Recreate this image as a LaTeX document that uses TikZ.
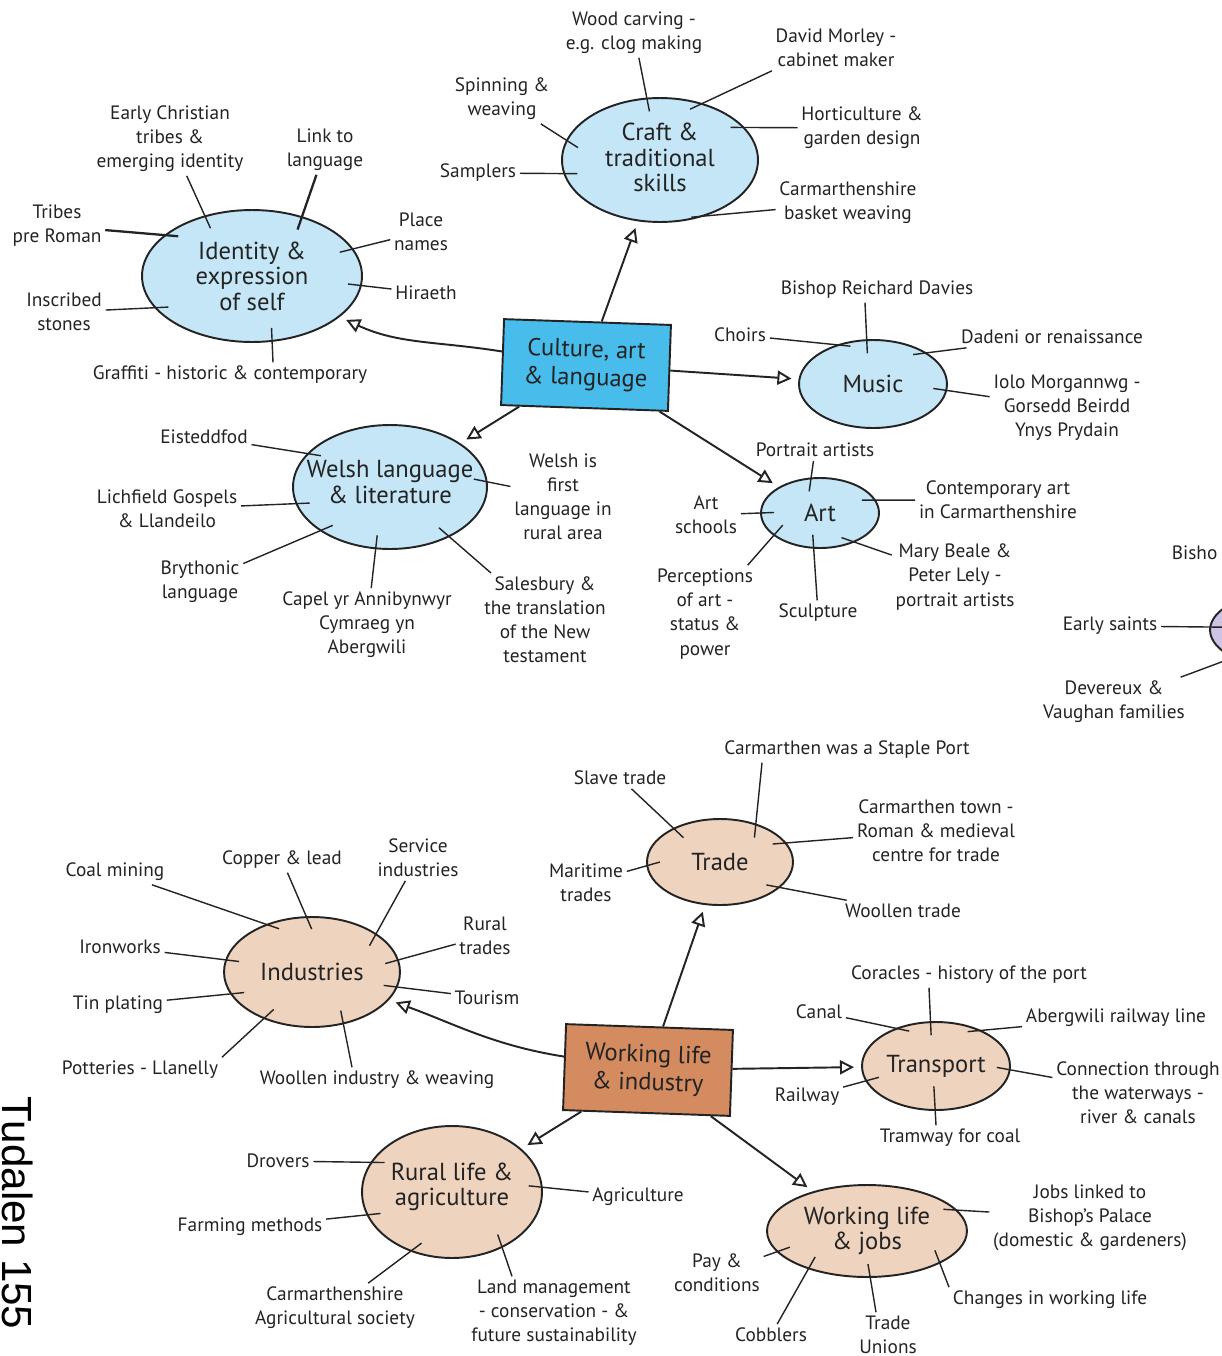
\documentclass[tikz,border=0pt]{standalone}
\usepackage{fontspec}
\setmainfont{PT Sans}
\newfontfamily\pagefont{Liberation Sans}
\usetikzlibrary{shapes.geometric,arrows.meta}

\definecolor{inkgrey}{RGB}{35,35,35}
\definecolor{culblue}{RGB}{72,189,236}
\definecolor{blobblue}{RGB}{197,230,247}
\definecolor{workbrown}{RGB}{212,139,96}
\definecolor{blobtan}{RGB}{238,211,191}
\definecolor{blobmauve}{RGB}{205,195,228}

\tikzset{
  leaf/.style={align=center,text=inkgrey,inner sep=2pt,
    font=\fontsize{11}{13.7}\selectfont},
  blob/.style={ellipse,draw=inkgrey,line width=1.1pt,inner sep=0pt},
  blueblob/.style={blob,fill=blobblue},
  tanblob/.style={blob,fill=blobtan},
  blobtxt/.style={align=center,text=inkgrey,font=\fontsize{14}{14.5}\selectfont},
  hubbox/.style={draw=inkgrey,line width=1.1pt,minimum width=3.34cm,
    minimum height=1.72cm,rotate=-2,align=center,text=inkgrey,
    font=\fontsize{14}{16}\selectfont},
  arr/.style={line width=1.1pt,draw=inkgrey,shorten >=4pt,
    -{Triangle[open,length=8pt,width=8pt]}},
  spoke/.style={line width=0.8pt,draw=inkgrey,shorten >=-8pt},
}

\begin{document}
\begin{tikzpicture}[x=0.02cm,y=-0.02cm]
	\useasboundingbox (0,0) rectangle (1222,1356);
	\clip (0,0) rectangle (1222,1356);

	% culture, art & language
	\node[hubbox,fill=culblue] (C) at (586,365) {Culture, art\\\& language};

	\node[blueblob,minimum width=4.4cm,minimum height=2.64cm,
		label={[blobtxt]center:{Identity \&\\expression\\of self}}] (CI) at (252,276) {};
	\node[blueblob,minimum width=3.92cm,minimum height=2.48cm,
		label={[blobtxt,yshift=0.05cm]center:{Craft \&\\traditional\\skills}}] (CC) at (660,160) {};
	\node[blueblob,minimum width=2.96cm,minimum height=1.76cm,
		label={[blobtxt]center:Music}] (CM) at (873,384) {};
	\node[blueblob,minimum width=2.36cm,minimum height=1.4cm,
		label={[blobtxt]center:Art}] (CA) at (820,513) {};
	\node[blueblob,minimum width=3.88cm,minimum height=2.48cm,
		label={[blobtxt,yshift=0.1cm]center:{Welsh language\\\& literature}}] (CW) at (390,487) {};
	\node[blob,fill=blobmauve,minimum width=3.4cm,minimum height=1.6cm] (CX) at (1295,630) {};

	\draw[arr] (C) -- (CC);
	\draw[arr] (C) to[out=172,in=-25] (CI);
	\draw[arr] (C) -- (CM);
	\draw[arr] (C) -- (CA);
	\draw[arr] (C) -- (CW);

	% identity
	\node[leaf] (CIa) at (170,139) {Early Christian\\tribes \&\\emerging identity};
	\node[leaf] (CIb) at (325,150) {Link to\\language};
	\node[leaf] (CIc) at (57,226) {Tribes\\pre Roman};
	\node[leaf] (CId) at (421,232) {Place\\names};
	\node[leaf] (CIe) at (426,293) {Hiraeth};
	\node[leaf] (CIf) at (64,312) {Inscribed\\stones};
	\node[leaf] (CIg) at (230,375) {Graffiti - historic \& contemporary};
	\draw[spoke] (CIa) -- (CI.128);
	\draw[spoke,line width=1.3pt] (CIb) -- (CI.50);
	\draw[spoke,line width=1.3pt] (CIc) -- (CI.155);
	\draw[spoke] (CId) -- (CI.15);
	\draw[spoke] (CIe) -- (CI.-5);
	\draw[spoke] (CIf) -- (CI.-162);
	\draw[spoke] ([xshift=0.86cm]CIg.north) -- (CI.-73);

	% craft
	\node[leaf] (CCa) at (634,33) {Wood carving -\\e.g. clog making};
	\node[leaf] (CCb) at (836,48) {David Morley -\\cabinet maker};
	\node[leaf] (CCc) at (502,99) {Spinning \&\\weaving};
	\node[leaf] (CCd) at (862,128) {Horticulture \&\\garden design};
	\node[leaf] (CCe) at (478,173) {Samplers};
	\node[leaf] (CCf) at (848,203) {Carmarthenshire\\basket weaving};
	\draw[spoke] (CCa) -- (CC.102);
	\draw[spoke] (CCb.south west) -- (CC.53);
	\draw[spoke] (CCc) -- (CC.168);
	\draw[spoke] (CCd) -- (CC.21);
	\draw[spoke] (CCe) -- (CC.-172);
	\draw[spoke] (CCf) -- (CC.-51);

	% music
	\node[leaf] (CMa) at (877,290) {Bishop Reichard Davies};
	\node[leaf] (CMb) at (740,335) {Choirs};
	\node[leaf] (CMc) at (1052,337) {Dadeni or renaissance};
	\node[leaf] (CMd) at (1067,408) {Iolo Morgannwg -\\Gorsedd Beirdd\\Ynys Prydain};
	\draw[spoke] ([xshift=-0.24cm]CMa.south) -- (CM.98);
	\draw[spoke] (CMb) -- (CM.133);
	\draw[spoke] (CMc) -- (CM.30);
	\draw[spoke] (CMd) -- (CM.-5);

	% art
	\node[leaf] (CAa) at (815,450) {Portrait artists};
	\node[leaf] (CAb) at (706,515) {Art\\schools};
	\node[leaf] (CAc) at (998,500) {Contemporary art\\in Carmarthenshire};
	\node[leaf] (CAd) at (955,577) {Mary Beale \&\\Peter Lely -\\portrait artists};
	\node[leaf] (CAe) at (818,613) {Sculpture};
	\node[leaf] (CAf) at (705,614) {Perceptions\\of art -\\status \&\\power};
	\draw[spoke] (CAa) -- (CA.104);
	\draw[spoke] (CAb) -- (CA.180);
	\draw[spoke] (CAc) -- (CA.13);
	\draw[spoke] (CAd) -- (CA.-40);
	\draw[spoke] (CAe) -- (CA.-100);
	\draw[spoke] (CAf) -- (CA.-154);

	% welsh
	\node[leaf] (CWa) at (204,437) {Eisteddfod};
	\node[leaf] (CWb) at (167,509) {Lichfield Gospels\\\& Llandeilo};
	\node[leaf] (CWc) at (200,582) {Brythonic\\language};
	\node[leaf] (CWd) at (367,625) {Capel yr Annibynwyr\\Cymraeg yn\\Abergwili};
	\node[leaf] (CWe) at (545,620) {Salesbury \&\\the translation\\of the New\\testament};
	\node[leaf] (CWf) at (563,497) {Welsh is\\first\\language in\\rural area};
	\draw[spoke] (CWa) -- (CW.158);
	\draw[spoke] (CWb) -- (CW.-170);
	\draw[spoke] (CWc) -- (CW.-148);
	\draw[spoke] (CWd) -- (CW.-103);
	\draw[spoke] (CWe) -- (CW.-40);
	\draw[spoke] (CWf) -- (CW.3);

	% cut at the edge
	\node[leaf,anchor=west] (CXa) at (1168,553) {Bisho};
	\node[leaf] (CXb) at (1110,626) {Early saints};
	\node[leaf] (CXc) at (1114,702) {Devereux \&\\Vaughan families};
	\draw[spoke] (CXb) -- (CX.178);
	\draw[spoke] (CXc) -- (CX.-156);

	% working life & industry
	\node[hubbox,fill=workbrown] (W) at (648,1070) {Working life\\\& industry};

	\node[tanblob,minimum width=2.92cm,minimum height=1.72cm,
		label={[blobtxt]center:Trade}] (WT) at (720,862) {};
	\node[tanblob,minimum width=3.52cm,minimum height=2.2cm,
		label={[blobtxt]center:Industries}] (WI) at (312,972) {};
	\node[tanblob,minimum width=2.96cm,minimum height=1.76cm,
		label={[blobtxt]center:Transport}] (WP) at (936,1066) {};
	\node[tanblob,minimum width=3.6cm,minimum height=2.64cm,
		label={[blobtxt,yshift=0.1cm]center:{Rural life \&\\agriculture}}] (WR) at (452,1192) {};
	\node[tanblob,minimum width=4cm,minimum height=1.84cm,
		label={[blobtxt]center:{Working life\\\& jobs}}] (WJ) at (867,1231) {};

	\draw[arr] (W) -- (WT);
	\draw[arr] (W) to[out=172,in=-20] (WI);
	\draw[arr] (W) -- (WP);
	\draw[arr] (W) -- (WR);
	\draw[arr] (W) -- (WJ);

	% trade
	\node[leaf] (WTa) at (847,750) {Carmarthen was a Staple Port};
	\node[leaf] (WTb) at (620,778) {Slave trade};
	\node[leaf] (WTc) at (936,831) {Carmarthen town -\\Roman \& medieval\\centre for trade};
	\node[leaf] (WTd) at (586,883) {Maritime\\trades};
	\node[leaf] (WTe) at (903,911) {Woollen trade};
	\draw[spoke] ([xshift=-1.7cm]WTa.south) -- (WT.47);
	\draw[spoke] (WTb) -- (WT.144);
	\draw[spoke] (WTc) -- (WT.16);
	\draw[spoke] (WTd) -- (WT.-177);
	\draw[spoke] (WTe) -- (WT.-23);

	% industries
	\node[leaf] (WIa) at (115,872) {Coal mining};
	\node[leaf] (WIb) at (282,860) {Copper \& lead};
	\node[leaf] (WIc) at (418,858) {Service\\industries};
	\node[leaf] (WId) at (485,936) {Rural\\trades};
	\node[leaf] (WIe) at (120,947) {Ironworks};
	\node[leaf] (WIf) at (487,998) {Tourism};
	\node[leaf] (WIg) at (118,1005) {Tin plating};
	\node[leaf] (WIh) at (140,1070) {Potteries - Llanelly};
	\node[leaf] (WIi) at (377,1080) {Woollen industry \& weaving};
	\draw[spoke] (WIa) -- (WI.134);
	\draw[spoke] (WIb) -- (WI.96);
	\draw[spoke] (WIc) -- (WI.31);
	\draw[spoke] (WId) -- (WI.8);
	\draw[spoke] (WIe) -- (WI.172);
	\draw[spoke] (WIf) -- (WI.-10);
	\draw[spoke] (WIg) -- (WI.-165);
	\draw[spoke] (WIh.north east) -- (WI.-136);
	\draw[spoke] ([xshift=-0.5cm]WIi.north) -- (WI.-59);

	% transport
	\node[leaf] (WPa) at (969,975) {Coracles - history of the port};
	\node[leaf] (WPb) at (819,1012) {Canal};
	\node[leaf] (WPc) at (1116,1018) {Abergwili railway line};
	\node[leaf] (WPd) at (1138,1093) {Connection through\\the waterways -\\river \& canals};
	\node[leaf] (WPe) at (807,1097) {Railway};
	\node[leaf] (WPf) at (950,1138) {Tramway for coal};
	\draw[spoke] ([xshift=-0.8cm]WPa.south) -- (WP.97);
	\draw[spoke] (WPb) -- (WP.137);
	\draw[spoke] (WPc) -- (WP.38);
	\draw[spoke] (WPd) -- (WP.-3);
	\draw[spoke] (WPe) -- (WP.-168);
	\draw[spoke,shorten >=-14pt] ([xshift=-0.28cm]WPf.north) -- (WP.-91);

	% rural life
	\node[leaf] (WRa) at (278,1161) {Drovers};
	\node[leaf] (WRb) at (250,1227) {Farming methods};
	\node[leaf] (WRc) at (638,1197) {Agriculture};
	\node[leaf] (WRd) at (335,1308) {Carmarthenshire\\Agricultural society};
	\node[leaf] (WRe) at (554,1313) {Land management\\- conservation - \&\\future sustainability};
	\draw[spoke] (WRa) -- (WR.160);
	\draw[spoke] (WRb) -- (WR.-165);
	\draw[spoke] (WRc) -- (WR.3);
	\draw[spoke] (WRd) -- (WR.-125);
	\draw[spoke] ([xshift=-0.84cm]WRe.north) -- (WR.-48);

	% working life & jobs
	\node[leaf] (WJa) at (1090,1218) {Jobs linked to\\Bishop's Palace\\(domestic \& gardeners)};
	\node[leaf] (WJb) at (717,1273) {Pay \&\\conditions};
	\node[leaf] (WJc) at (771,1335) {Cobblers};
	\node[leaf] (WJd) at (888,1335) {Trade\\Unions};
	\node[leaf] (WJe) at (1050,1300) {Changes in working life};
	\draw[spoke] (WJa) -- (WJ.13);
	\draw[spoke] (WJb) -- (WJ.-167);
	\draw[spoke] (WJc) -- (WJ.-147);
	\draw[spoke] ([xshift=-0.24cm]WJd.north) -- (WJ.-86);
	\draw[spoke] (WJe.north west) -- (WJ.-24);

	\node[rotate=-90,font=\pagefont\fontsize{24}{24}\selectfont] (page) at (18,1213) {Tudalen 155};
\end{tikzpicture}
\end{document}
